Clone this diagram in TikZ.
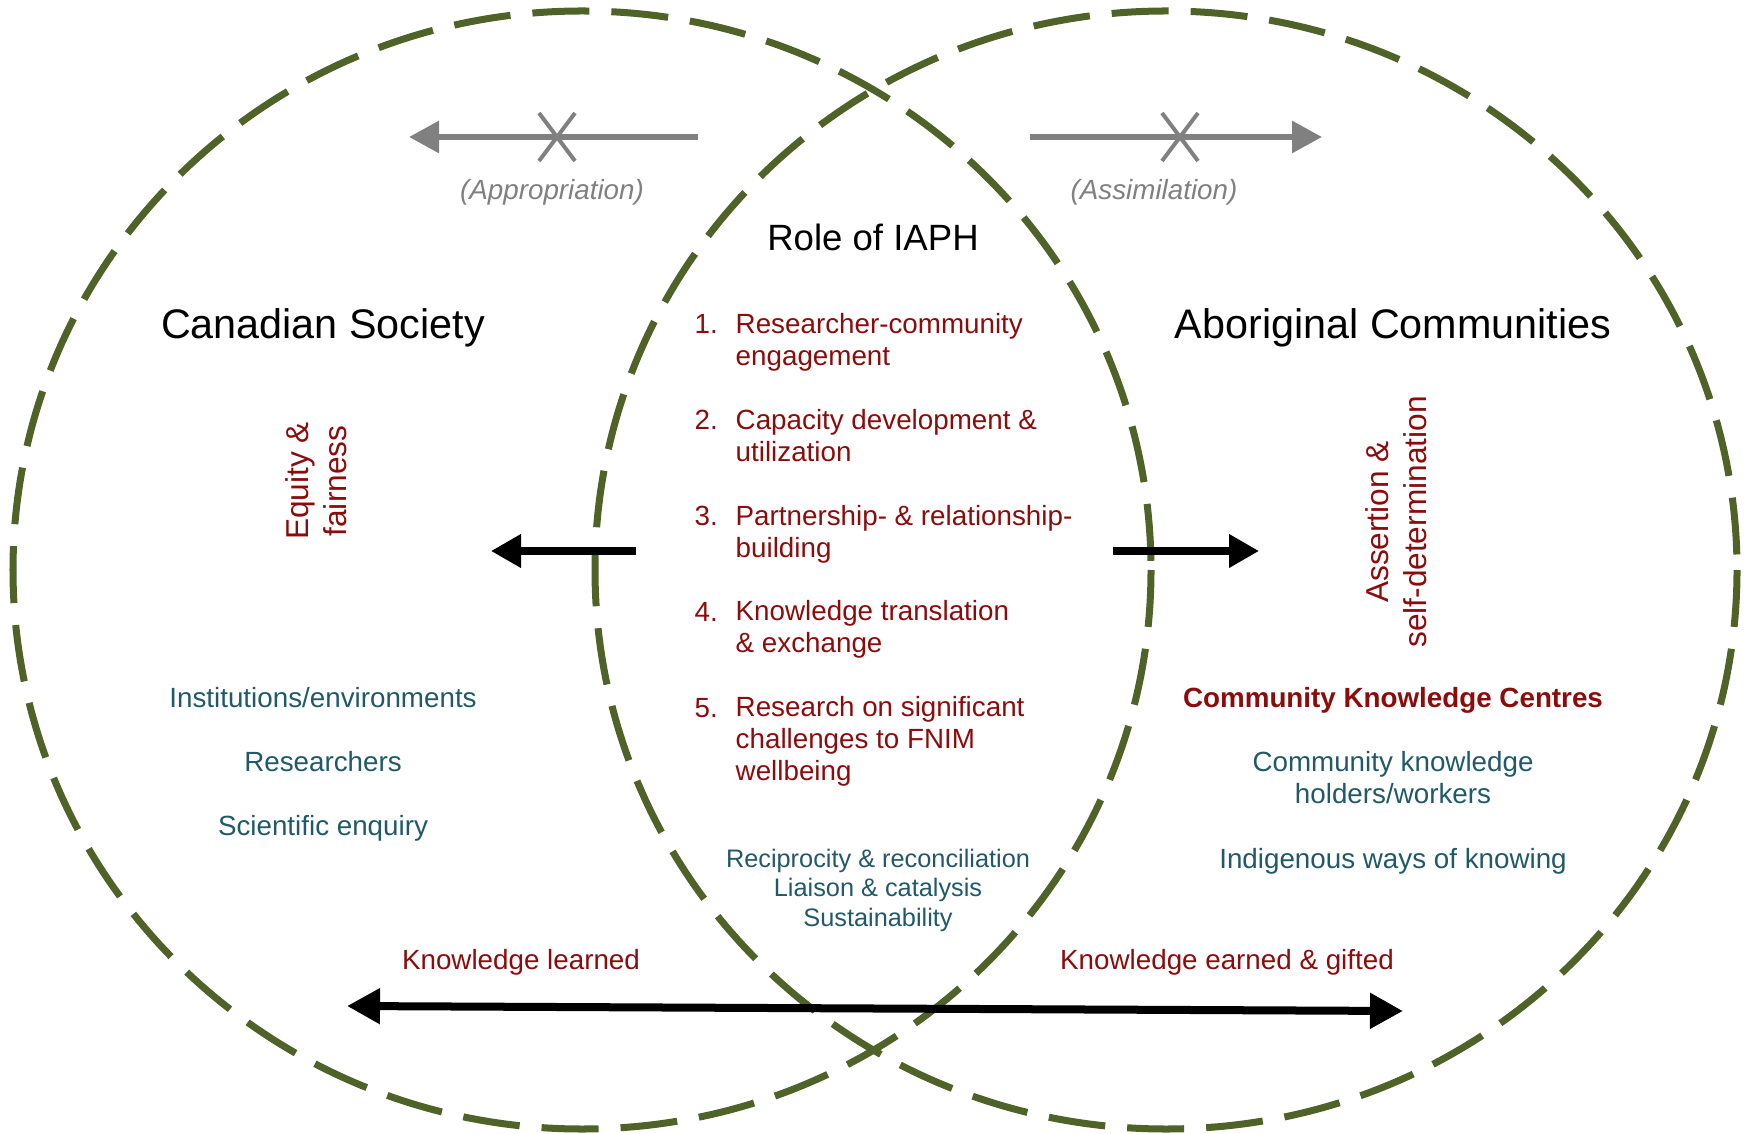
\documentclass[tikz,border=0pt]{standalone}
\usepackage{fontspec}
\setmainfont{Liberation Sans}
\usetikzlibrary{arrows.meta}
\usetikzlibrary{positioning}

\definecolor{venngreen}{RGB}{79,98,40}
\definecolor{darkred}{RGB}{139,12,12}
\definecolor{tealtext}{RGB}{33,89,104}
\definecolor{arrowgray}{RGB}{128,128,128}

\tikzset{
	venn/.style={draw=venngreen, line width=0.07cm, dash pattern=on 0.57cm off 0.22cm},
	grayarrow/.style={draw=arrowgray, line width=0.06cm, -{Triangle[length=0.3cm, width=0.31cm]}},
	xmark/.style={draw=arrowgray, line width=0.04cm},
	blackarrow/.style={draw=black, line width=0.07cm, -{Triangle[length=0.3cm, width=0.32cm]}},
}

\begin{document}
\begin{tikzpicture}[x=0.01cm, y=-0.01cm]
	\useasboundingbox (0,0) rectangle (1749,1134);

	% the two circles
	\draw[venn] (582,570) ellipse [x radius=569, y radius=559];
	\draw[venn] (1166,570) ellipse [x radius=571, y radius=559];

	% named ends of the arrows
	\coordinate (apptail) at (698,137);
	\coordinate (apptip) at (409,137);
	\coordinate (appx) at (557,137);
	\coordinate (asstail) at (1030,137);
	\coordinate (asstip) at (1322,137);
	\coordinate (assx) at (1180,137);
	\coordinate (lefttail) at (636,551);
	\coordinate (lefttip) at (491,551);
	\coordinate (righttail) at (1113,551);
	\coordinate (righttip) at (1259,551);
	\coordinate (knowleft) at (347,1006);
	\coordinate (knowright) at (1403,1011);

	\begin{scope}
		\draw[grayarrow] (apptail) -- (apptip);
		\draw[grayarrow] (asstail) -- (asstip);
		\draw[xmark] (appx) ++(-18,-24) -- ++(36,48);
		\draw[xmark] (appx) ++(18,-24) -- ++(-36,48);
		\draw[xmark] (assx) ++(-18,-24) -- ++(36,48);
		\draw[xmark] (assx) ++(18,-24) -- ++(-36,48);
	\end{scope}

	\begin{scope}
		\draw[blackarrow] (lefttail) -- (lefttip);
		\draw[blackarrow] (righttail) -- (righttip);
		\draw[blackarrow, line width=0.08cm, {Triangle[length=0.33cm, width=0.34cm]}-{Triangle[length=0.33cm, width=0.34cm]}] (knowleft) -- (knowright);
	\end{scope}

	% titles
	\begin{scope}[every node/.style={inner sep=0pt, anchor=base, font=\fontsize{11.75}{14}\selectfont}]
		\node (canada) at (323,339) {Canadian Society};
		\node (aboriginal) at (1393,339) {Aboriginal Communities};
		\node[font=\fontsize{10.4}{12.5}\selectfont] (role) at (873,251) {Role of IAPH};
	\end{scope}

	% gray labels
	\begin{scope}[every node/.style={inner sep=0pt, anchor=base, text=arrowgray, font=\fontsize{7.9}{9}\selectfont\itshape}]
		\node (approp) at (552,200) {(Appropriation)};
		\node (assim) at (1154,200) {(Assimilation)};
	\end{scope}

	% role list (base anchor sits on the last line)
	\begin{scope}[every node/.style={inner sep=0pt, anchor=base west, align=left, text=darkred, font=\fontsize{7.9}{8.96}\selectfont}]
		\node (n1) at (694,334) {1.};
		\node (item1) at (735,365.5) {Researcher-community\\engagement};
		\node (n2) at (694,430) {2.};
		\node (item2) at (735,461.5) {Capacity development \&\\utilization};
		\node (n3) at (694,526) {3.};
		\node (item3) at (735,557.5) {Partnership- \& relationship-\\building};
		\node (n4) at (694,621) {4.};
		\node (item4) at (735,652.5) {Knowledge translation\\\& exchange};
		\node (n5) at (694,717) {5.};
		\node (item5) at (735,780) {Research on significant\\challenges to FNIM\\wellbeing};
	\end{scope}

	% rotated labels
	\begin{scope}[every node/.style={inner sep=0pt, rotate=90, align=center, text=darkred, font=\fontsize{9}{10.8}\selectfont}]
		\node (equity) at (316,481) {Equity \&\\fairness};
		\node (assert) at (1396,522) {Assertion \&\\self-determination};
	\end{scope}

	% red labels
	\begin{scope}[every node/.style={inner sep=0pt, anchor=base, text=darkred, font=\fontsize{7.9}{9}\selectfont}]
		\node (learned) at (521,969) {Knowledge learned};
		\node (earned) at (1227,969) {Knowledge earned \& gifted};
		\node[font=\fontsize{7.9}{9}\selectfont\bfseries] (centres) at (1393,707) {Community Knowledge Centres};
	\end{scope}

	% blue text
	\begin{scope}[every node/.style={inner sep=0pt, anchor=base, align=center, text=tealtext, font=\fontsize{7.9}{8.96}\selectfont}]
		\node (inst) at (323,707) {Institutions/environments};
		\node (res) at (323,771) {Researchers};
		\node (sci) at (323,835) {Scientific enquiry};
		\node (holders) at (1393,803.5) {Community knowledge\\holders/workers};
		\node (ways) at (1393,868) {Indigenous ways of knowing};
		\node[font=\fontsize{7.2}{8.25}\selectfont] (recip) at (878,926) {Reciprocity \& reconciliation\\Liaison \& catalysis\\Sustainability};
	\end{scope}
\end{tikzpicture}
\end{document}
